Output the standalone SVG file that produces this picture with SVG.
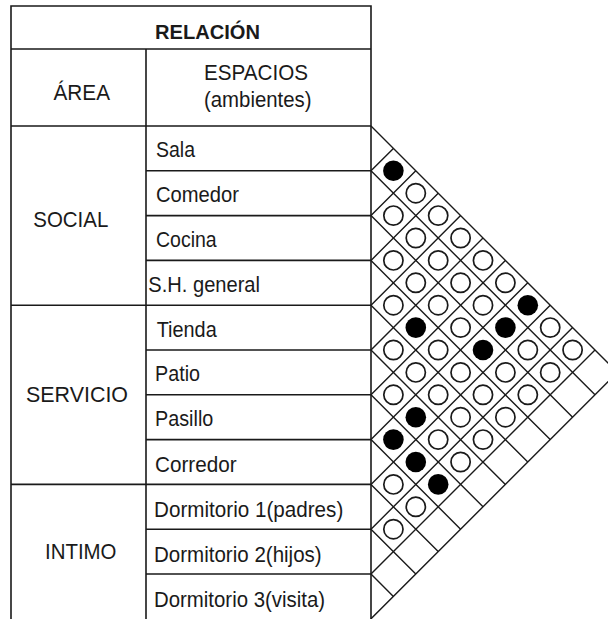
<svg xmlns="http://www.w3.org/2000/svg" xmlns:xlink="http://www.w3.org/1999/xlink" width="608" height="619" viewBox="0 0 608 619">
<style>
.t{font-family:"Liberation Sans",Arial,sans-serif;font-size:21.5px;fill:#1a1a1a}
.b{font-weight:bold;font-size:20px}
.tl{stroke:#1a1a1a;stroke-width:1.6;fill:none}
.gl{stroke:#1a1a1a;stroke-width:1.4;fill:none}
.o{fill:#fff;stroke:#1a1a1a;stroke-width:1.7}
.f{fill:#000}
</style>
<defs>
<circle id="op" r="9.6" class="o"/>
<circle id="bk" r="10.3" class="f"/>
</defs>
<rect width="608" height="619" fill="#fff"/>
<g id="table">
<path class="tl" d="M11,620 V6 H371 V620 M11,49 H371 M11,126 H371 M146,49 V620 M146,170.8 H371 M146,215.6 H371 M146,260.4 H371 M11,305.2 H371 M146,350 H371 M146,394.8 H371 M146,439.6 H371 M11,484.4 H371 M146,529.2 H371 M146,574 H371"/>
</g>
<g id="headers">
<text class="t b" x="155" y="39.3" textLength="105" lengthAdjust="spacingAndGlyphs">RELACIÓN</text>
<text class="t" x="53.5" y="100" textLength="56.5" lengthAdjust="spacingAndGlyphs">ÁREA</text>
<text class="t" x="204" y="80" textLength="104" lengthAdjust="spacingAndGlyphs">ESPACIOS</text>
<text class="t" x="204" y="106.7" textLength="107.5" lengthAdjust="spacingAndGlyphs">(ambientes)</text>
</g>
<g id="areas">
<text class="t" x="33.3" y="226.7" textLength="75" lengthAdjust="spacingAndGlyphs">SOCIAL</text>
<text class="t" x="26" y="401.7" textLength="102" lengthAdjust="spacingAndGlyphs">SERVICIO</text>
<text class="t" x="45" y="559" textLength="71.5" lengthAdjust="spacingAndGlyphs">INTIMO</text>
</g>
<g id="spaces">
<text class="t" x="156" y="156.7" textLength="39" lengthAdjust="spacingAndGlyphs">Sala</text>
<text class="t" x="156" y="201.7" textLength="83" lengthAdjust="spacingAndGlyphs">Comedor</text>
<text class="t" x="156" y="246.7" textLength="60.7" lengthAdjust="spacingAndGlyphs">Cocina</text>
<text class="t" x="148.3" y="291.7" textLength="111.7" lengthAdjust="spacingAndGlyphs">S.H. general</text>
<text class="t" x="156.7" y="336.7" textLength="60" lengthAdjust="spacingAndGlyphs">Tienda</text>
<text class="t" x="155" y="380.5" textLength="45" lengthAdjust="spacingAndGlyphs">Patio</text>
<text class="t" x="155" y="426" textLength="58.3" lengthAdjust="spacingAndGlyphs">Pasillo</text>
<text class="t" x="155" y="471.5" textLength="81.7" lengthAdjust="spacingAndGlyphs">Corredor</text>
<text class="t" x="154" y="516.7" textLength="189.3" lengthAdjust="spacingAndGlyphs">Dormitorio 1(padres)</text>
<text class="t" x="154" y="561.7" textLength="167.7" lengthAdjust="spacingAndGlyphs">Dormitorio 2(hijos)</text>
<text class="t" x="154" y="606.7" textLength="171" lengthAdjust="spacingAndGlyphs">Dormitorio 3(visita)</text>
</g>
<g id="connectors">
<path class="gl" d="M371,126 L617.4,372.4 M371,170.8 L595,394.8 M371,215.6 L572.6,417.2 M371,260.4 L550.2,439.6 M371,305.2 L527.8,462 M371,350 L505.4,484.4 M371,394.8 L483,506.8 M371,439.6 L460.6,529.2 M371,484.4 L438.2,551.6 M371,529.2 L415.8,574 M371,574 L393.4,596.4"/>
<path class="gl" d="M371,170.8 L393.4,148.4 M371,215.6 L415.8,170.8 M371,260.4 L438.2,193.2 M371,305.2 L460.6,215.6 M371,350 L483,238 M371,394.8 L505.4,260.4 M371,439.6 L527.8,282.8 M371,484.4 L550.2,305.2 M371,529.2 L572.6,327.6 M371,574 L595,350 M371,618.8 L617.4,372.4"/>
</g>
<g id="strong">
<use xlink:href="#bk" x="393.4" y="170.8"/>
<use xlink:href="#bk" x="527.8" y="305.2"/>
<use xlink:href="#bk" x="415.8" y="327.6"/>
<use xlink:href="#bk" x="505.4" y="327.6"/>
<use xlink:href="#bk" x="483" y="350"/>
<use xlink:href="#bk" x="415.8" y="417.2"/>
<use xlink:href="#bk" x="393.4" y="439.6"/>
<use xlink:href="#bk" x="415.8" y="462"/>
<use xlink:href="#bk" x="438.2" y="484.4"/>
</g>
<g id="weak">
<use xlink:href="#op" x="415.8" y="193.2"/>
<use xlink:href="#op" x="393.4" y="215.6"/>
<use xlink:href="#op" x="438.2" y="215.6"/>
<use xlink:href="#op" x="415.8" y="238"/>
<use xlink:href="#op" x="460.6" y="238"/>
<use xlink:href="#op" x="393.4" y="260.4"/>
<use xlink:href="#op" x="438.2" y="260.4"/>
<use xlink:href="#op" x="483" y="260.4"/>
<use xlink:href="#op" x="415.8" y="282.8"/>
<use xlink:href="#op" x="460.6" y="282.8"/>
<use xlink:href="#op" x="505.4" y="282.8"/>
<use xlink:href="#op" x="393.4" y="305.2"/>
<use xlink:href="#op" x="438.2" y="305.2"/>
<use xlink:href="#op" x="483" y="305.2"/>
<use xlink:href="#op" x="460.6" y="327.6"/>
<use xlink:href="#op" x="550.2" y="327.6"/>
<use xlink:href="#op" x="393.4" y="350"/>
<use xlink:href="#op" x="438.2" y="350"/>
<use xlink:href="#op" x="527.8" y="350"/>
<use xlink:href="#op" x="572.6" y="350"/>
<use xlink:href="#op" x="415.8" y="372.4"/>
<use xlink:href="#op" x="460.6" y="372.4"/>
<use xlink:href="#op" x="505.4" y="372.4"/>
<use xlink:href="#op" x="550.2" y="372.4"/>
<use xlink:href="#op" x="393.4" y="394.8"/>
<use xlink:href="#op" x="438.2" y="394.8"/>
<use xlink:href="#op" x="483" y="394.8"/>
<use xlink:href="#op" x="527.8" y="394.8"/>
<use xlink:href="#op" x="460.6" y="417.2"/>
<use xlink:href="#op" x="505.4" y="417.2"/>
<use xlink:href="#op" x="438.2" y="439.6"/>
<use xlink:href="#op" x="483" y="439.6"/>
<use xlink:href="#op" x="460.6" y="462"/>
<use xlink:href="#op" x="393.4" y="484.4"/>
<use xlink:href="#op" x="415.8" y="506.8"/>
<use xlink:href="#op" x="393.4" y="529.2"/>
</g>
</svg>
